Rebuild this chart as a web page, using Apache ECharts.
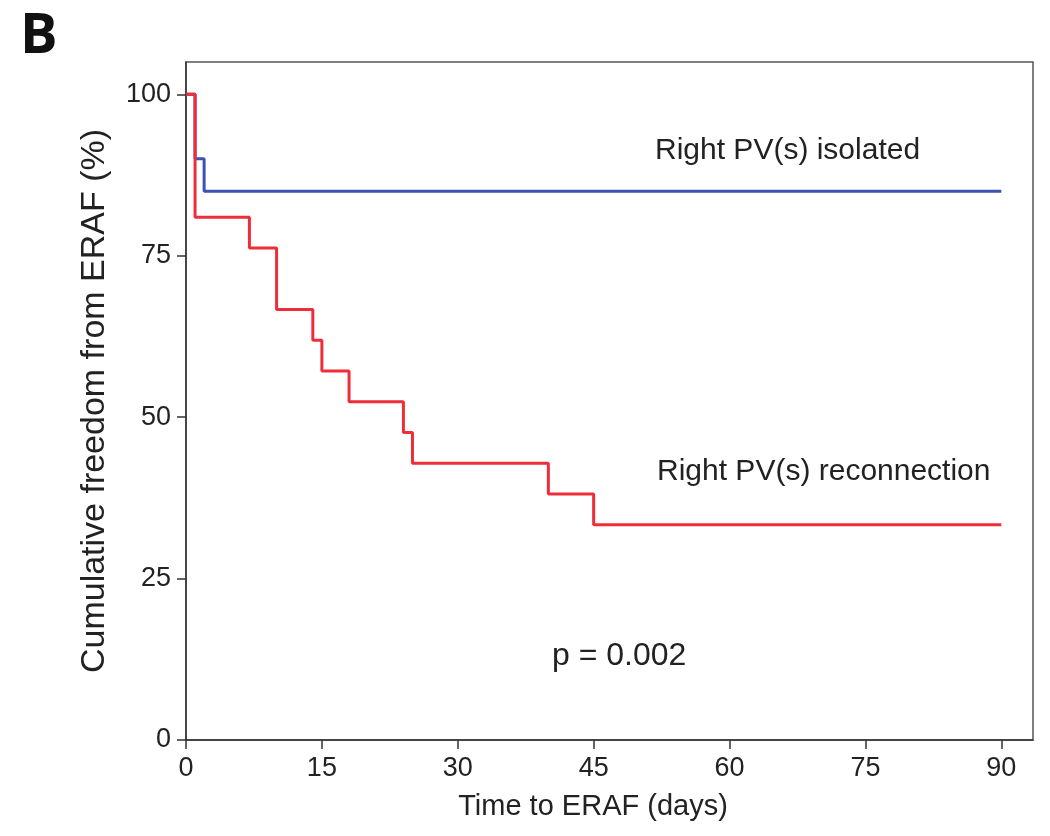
<!DOCTYPE html>
<html>
<head>
<meta charset="utf-8">
<script src="https://cdn.jsdelivr.net/npm/echarts@6/dist/echarts.min.js"></script>
<style>
  html, body { margin: 0; padding: 0; background: #fff; }
  #chart { width: 1050px; height: 836px; }
</style>
</head>
<body>
<div id="chart"></div>
<script>
// Kaplan-Meier steps (days, % free from ERAF)
const reconnDays = [0, 1, 7, 10, 14, 15, 18, 24, 25, 40, 45, 90]
const reconnFree = [100, 80.95, 76.19, 66.67, 61.90, 57.14, 52.38, 47.62, 42.86, 38.10, 33.33, 33.33]
const isolatedDays = [0, 1, 2, 90]
const isolatedFree = [100, 90, 85, 85]
const xTicks = [0, 15, 30, 45, 60, 75, 90]
const yTicks = [0, 25, 50, 75, 100]

const font = '"Liberation Sans", Arial, sans-serif'
const toPairs = (xs, ys) => xs.map((x, i) => [x, ys[i]])

const chart = echarts.init(document.getElementById('chart'))
const options = {
    backgroundColor: '#fff',
    animation: false,
    grid: {
        left: 186, right: 17, top: 62, bottom: 96,
        show: true, borderColor: '#555', borderWidth: 1.5
    },
    xAxis: {
        type: 'value', min: 0, max: 93.5, interval: 15,
        name: 'Time to ERAF (days)', nameLocation: 'middle', nameGap: 52,
        nameTextStyle: { fontFamily: font, fontSize: 29, color: '#222', padding: [0, 33, 0, 0] },
        axisLine: { lineStyle: { color: '#333', width: 1.5 } },
        axisTick: { length: 9, customValues: xTicks, lineStyle: { color: '#333', width: 1.5 } },
        axisLabel: { fontFamily: font, fontSize: 27, color: '#222', margin: 15, customValues: xTicks },
        splitLine: { show: false }
    },
    yAxis: {
        type: 'value', min: 0, max: 105, interval: 25,
        name: 'Cumulative freedom from ERAF (%)', nameLocation: 'middle', nameGap: 74,
        nameTextStyle: { fontFamily: font, fontSize: 34, color: '#222' },
        axisLine: { lineStyle: { color: '#333', width: 1.5 } },
        axisTick: { length: 9, customValues: yTicks, lineStyle: { color: '#333', width: 1.5 } },
        axisLabel: { fontFamily: font, fontSize: 27, color: '#222', margin: 15, customValues: yTicks },
        splitLine: { show: false }
    },
    graphic: [
        { type: 'text', x: 20, y: 37,
          style: { text: 'B', font: 'bold 56px "Open Sans", sans-serif', fill: '#111', verticalAlign: 'middle' } },
        { type: 'text', x: 655, y: 151,
          style: { text: 'Right PV(s) isolated', font: '30px ' + font, fill: '#222', verticalAlign: 'middle' } },
        { type: 'text', x: 657, y: 472,
          style: { text: 'Right PV(s) reconnection', font: '30px ' + font, fill: '#222', verticalAlign: 'middle' } },
        { type: 'text', x: 552, y: 656,
          style: { text: 'p = 0.002', font: '32px ' + font, fill: '#222', verticalAlign: 'middle' } }
    ],
    series: [
        {
            name: 'Right PV(s) isolated', type: 'line', step: 'end',
            data: toPairs(isolatedDays, isolatedFree),
            showSymbol: false, lineStyle: { color: '#3a52b4', width: 3 }, z: 2
        },
        {
            name: 'Right PV(s) reconnection', type: 'line', step: 'end',
            data: toPairs(reconnDays, reconnFree),
            showSymbol: false, lineStyle: { color: '#ee2d38', width: 3 }, z: 3
        }
    ]
}
chart.setOption(options)
</script>
</body>
</html>
